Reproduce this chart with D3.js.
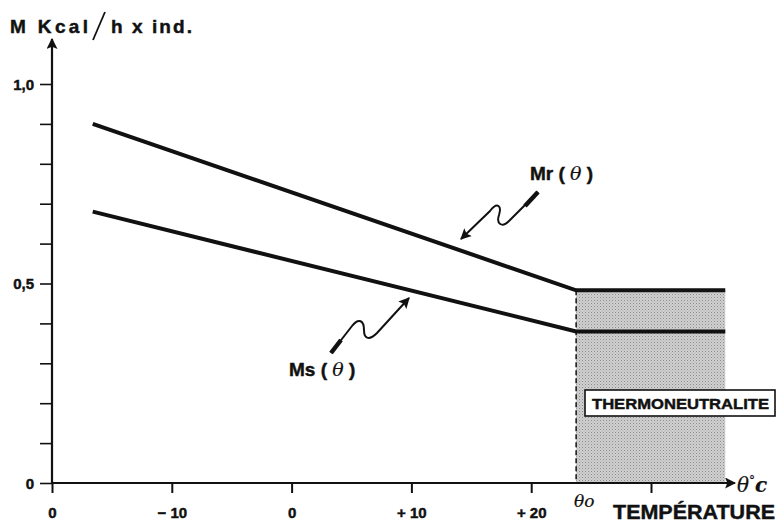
<!DOCTYPE html>
<html>
<head>
<meta charset="utf-8">
<script src="https://cdn.jsdelivr.net/npm/d3@7"></script>
<style>
  body { margin: 0; background: #fff; }
  svg { display: block; }
  text { font-family: "Liberation Sans", Arial, sans-serif; font-weight: bold; fill: #111; stroke: #111; stroke-width: 0.45px; }
  .it { font-family: "DejaVu Serif", serif; font-style: italic; font-weight: normal; stroke-width: 0.2px; }
</style>
</head>
<body>
<div id="chart"></div>
<script>
// temperature (deg C) and metabolism (M Kcal/h x ind.)
var temps = [-16.6, 23.75, 36.2];
var mrValues = [0.90, 0.483, 0.483];
var msValues = [0.68, 0.38, 0.38];
var thetaO = 23.75;

var xTicks = [-20, -10, 0, 10, 20, 30];
var xTickLabels = ["0", "\u2212 10", "0", "+ 10", "+ 20", ""];
var yTicks = [0, 0.1, 0.2, 0.3, 0.4, 0.5, 0.6, 0.7, 0.8, 0.9, 1.0];
var yTickLabels = {"0": "0", "0.5": "0,5", "1": "1,0"};

var width = 777,
    height = 530;

var x = d3.scaleLinear().domain([-20, 30]).range([52, 651]);
var y = d3.scaleLinear().domain([0, 1]).range([483, 84]);

var svg = d3.select("#chart").append("svg")
    .attr("width", width)
    .attr("height", height);

var defs = svg.append("defs");
var pat = defs.append("pattern")
    .attr("id", "dots")
    .attr("width", 3).attr("height", 3)
    .attr("patternUnits", "userSpaceOnUse");
pat.append("rect").attr("width", 3).attr("height", 3).attr("fill", "#d0d0d0");
pat.append("rect").attr("width", 1).attr("height", 1).attr("fill", "#8c8c8c");
pat.append("rect").attr("x", 1.5).attr("y", 1.5).attr("width", 1).attr("height", 1).attr("fill", "#a8a8a8");

defs.append("marker")
    .attr("id", "bighead")
    .attr("viewBox", "0 0 10 10")
    .attr("refX", 9).attr("refY", 5)
    .attr("markerWidth", 11).attr("markerHeight", 11)
    .attr("markerUnits", "userSpaceOnUse")
    .attr("orient", "auto")
  .append("path")
    .attr("d", "M0,0 L10,5 L0,10 L2,5 z")
    .attr("fill", "#111");

// thermoneutral zone
svg.append("rect")
    .attr("x", x(thetaO))
    .attr("y", y(mrValues[1]))
    .attr("width", x(temps[2]) - x(thetaO))
    .attr("height", y(0) - y(mrValues[1]))
    .attr("fill", "url(#dots)");

svg.append("line")
    .attr("x1", x(thetaO)).attr("x2", x(thetaO))
    .attr("y1", y(mrValues[1])).attr("y2", y(0))
    .attr("stroke", "#111")
    .attr("stroke-width", 1.5)
    .attr("stroke-dasharray", "5,3");

// axes
var xAxis = d3.axisBottom(x).tickValues(xTicks).tickSize(10).tickFormat(function(d, i) { return xTickLabels[i]; });
var gx = svg.append("g").attr("transform", "translate(0," + y(0) + ")").call(xAxis);
gx.select(".domain").remove();
gx.selectAll("line").attr("stroke", "#111").attr("stroke-width", 2);
gx.selectAll("text").attr("font-size", 15).attr("dy", "1.45em").attr("fill", "#111")
    .style("font-family", "Liberation Sans, Arial, sans-serif").style("font-weight", "bold");

var yAxis = d3.axisLeft(y).tickValues(yTicks).tickSize(12).tickFormat(function(d) {
  var k = String(+d.toFixed(1));
  return yTickLabels[k] || "";
});
var gy = svg.append("g").attr("transform", "translate(" + x(-20) + ",0)").call(yAxis);
gy.select(".domain").remove();
gy.selectAll("line").attr("stroke", "#111").attr("stroke-width", 1.6);
gy.selectAll("text").attr("font-size", 15).attr("x", -18).attr("dy", "0.36em").attr("fill", "#111")
    .style("font-family", "Liberation Sans, Arial, sans-serif").style("font-weight", "bold");

svg.append("line")
    .attr("x1", x(-20)).attr("x2", 735)
    .attr("y1", y(0)).attr("y2", y(0))
    .attr("stroke", "#111").attr("stroke-width", 2.2)
    .attr("marker-end", "url(#bighead)");
svg.append("line")
    .attr("x1", x(-20)).attr("x2", x(-20))
    .attr("y1", y(0)).attr("y2", 39)
    .attr("stroke", "#111").attr("stroke-width", 2.2)
    .attr("marker-end", "url(#bighead)");

// data lines
var line = d3.line()
    .x(function(d, i) { return x(temps[i]); })
    .y(function(d) { return y(d); });

[mrValues, msValues].forEach(function(s) {
  svg.append("path")
      .attr("d", line(s))
      .attr("fill", "none")
      .attr("stroke", "#111")
      .attr("stroke-width", 4);
});

// squiggly pointers
svg.append("path")
    .attr("d", "M538,192 L509,221 C502,228 496,224 499,215 C502,205 497,202 490,211 L461,239")
    .attr("fill", "none").attr("stroke", "#111").attr("stroke-width", 2)
    .attr("marker-end", "url(#bighead)");
svg.append("path")
    .attr("d", "M331,353 L352,326 C359,317 364,321 364,330 C364,340 370,340 377,333 L409,298")
    .attr("fill", "none").attr("stroke", "#111").attr("stroke-width", 2)
    .attr("marker-end", "url(#bighead)");
svg.append("line").attr("x1", 538).attr("y1", 192).attr("x2", 525).attr("y2", 206)
    .attr("stroke", "#111").attr("stroke-width", 4.5);
svg.append("line").attr("x1", 331).attr("y1", 353).attr("x2", 341).attr("y2", 340)
    .attr("stroke", "#111").attr("stroke-width", 4.5);

// labels
function label(xp, yp, name) {
  var t = svg.append("text").attr("x", xp).attr("y", yp).attr("font-size", 19);
  t.append("tspan").text(name + " ( ");
  t.append("tspan").attr("class", "it").text("\u03b8");
  t.append("tspan").text(" )");
}
label(530, 180, "Mr");
label(289, 376, "Ms");

svg.append("text").attr("x", 10).attr("y", 33).attr("font-size", 19)
    .attr("textLength", 78).attr("lengthAdjust", "spacing").text("M Kcal");
svg.append("line").attr("x1", 105).attr("y1", 12).attr("x2", 93).attr("y2", 40)
    .attr("stroke", "#111").attr("stroke-width", 1.8);
svg.append("text").attr("x", 111).attr("y", 33).attr("font-size", 19)
    .attr("textLength", 81).attr("lengthAdjust", "spacing").text("h x ind.");

svg.append("rect").attr("x", 585).attr("y", 390).attr("width", 190).attr("height", 26)
    .attr("fill", "#fff").attr("stroke", "#111").attr("stroke-width", 1.6);
svg.append("text").attr("x", 592).attr("y", 409).attr("font-size", 15)
    .attr("textLength", 177).attr("lengthAdjust", "spacingAndGlyphs").text("THERMONEUTRALITE");

svg.append("text").attr("class", "it").attr("x", 574).attr("y", 507).attr("font-size", 17).text("\u03b8o");
var tc = svg.append("text").attr("class", "it").attr("x", 737).attr("y", 492).attr("font-size", 20);
tc.append("tspan").text("\u03b8");
tc.append("tspan").attr("font-size", 12).attr("dy", -7).text("\u00b0");
tc.append("tspan").attr("dy", 7).attr("font-weight", "bold").text("c");

svg.append("text").attr("x", 613).attr("y", 519).attr("font-size", 21)
    .attr("textLength", 162).attr("lengthAdjust", "spacingAndGlyphs").text("TEMP\u00c9RATURE");
</script>
</body>
</html>
